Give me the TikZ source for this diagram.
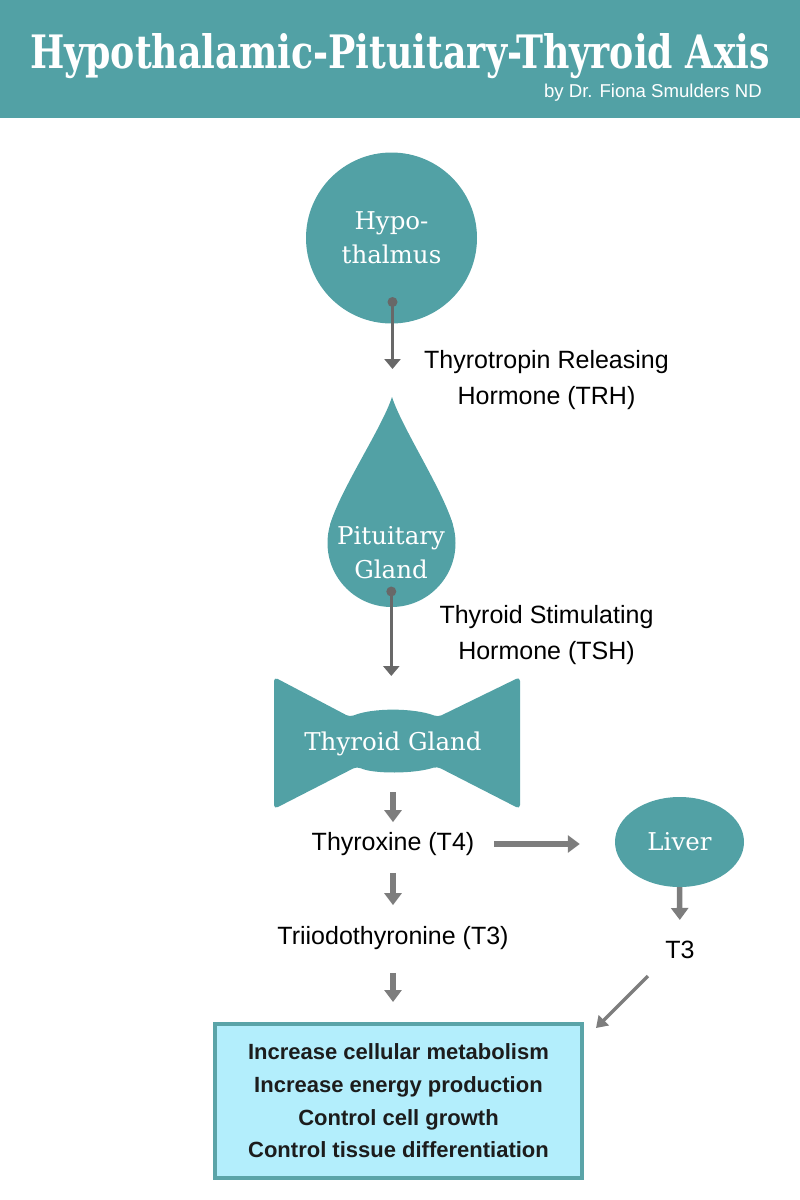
\documentclass[tikz,border=0pt]{standalone}
\usepackage{graphicx}
\usepackage{fontspec}
\newfontfamily\labelfont{Liberation Sans}
\newfontfamily\glandfont{DejaVu Serif}
\usepackage{tikz}
\usetikzlibrary{shapes.geometric, arrows.meta, positioning}

\definecolor{glandteal}{RGB}{82,161,165}
\definecolor{boxfill}{RGB}{179,238,252}
\definecolor{boxline}{RGB}{90,164,168}
\definecolor{linkgray}{RGB}{104,104,104}
\definecolor{stubgray}{RGB}{125,125,125}
\definecolor{inktext}{RGB}{28,28,28}

\begin{document}
\begin{tikzpicture}[x=1pt, y=-1pt, >=Triangle]
\tikzstyle{gland} = [fill=glandteal, text=white, font=\glandfont\fontsize{24.5}{34}\selectfont, align=center, inner sep=0pt]
\tikzstyle{hormone} = [text=black, font=\labelfont\fontsize{25}{36}\selectfont, align=center, inner sep=0pt]
\tikzstyle{effects} = [draw=boxline, line width=4pt, fill=boxfill, text=inktext, minimum width=367pt, minimum height=154pt, align=center, font=\labelfont\bfseries\fontsize{22}{32.7}\selectfont]
\tikzstyle{link} = [draw=linkgray, line width=3pt, -{Triangle[width=16pt, length=10pt]}]
\tikzstyle{stub} = [draw=stubgray, line width=5.5pt, -{Triangle[width=17pt, length=12pt]}]
\tikzstyle{slant} = [draw=stubgray, line width=3.5pt, -{Triangle[width=14pt, length=11pt]}]

\useasboundingbox (0,0) rectangle (800,1200);

% header band with the title
\fill[glandteal] (0,0) rectangle (800,118);
\node[anchor=base, text=white, inner sep=0pt] (title) at (400,68) {\resizebox{740pt}{35pt}{\glandfont\bfseries Hypothalamic-Pituitary-Thyroid Axis}};
\node[anchor=base east, text=white, inner sep=0pt, font=\labelfont\fontsize{18.6}{20}\selectfont] (byline) at (762,97) {by Dr. Fiona Smulders ND};

% the glands
\node[gland, circle, minimum size=171pt] (hypo) at (391.5,238) {Hypo-\\thalmus};

\fill[glandteal] (391.5,543) circle[radius=64];
\fill[glandteal] (392,397) .. controls (402,428) and (443,490) .. (453,525) -- (330,525) .. controls (340,490) and (382,428) .. (392,397) -- cycle;
\node[gland, fill=none] (pit) at (391,553) {Pituitary\\Gland};

\fill[glandteal, rounded corners=4pt] (274,677) -- (350,717) .. controls (372,707.7) and (414,707.7) .. (438,717) -- (520,677) -- (520,809) -- (437,766.5) .. controls (414,774) and (373,774) .. (357,766.5) -- (274,809) -- cycle;
\node[gland, fill=none] (thy) at (393,744) {Thyroid Gland};

\node[gland, ellipse, minimum width=129pt, minimum height=90pt] (liver) at (679.5,842) {Liver};

% hormones
\node[hormone] (trh) at (546.5,380) {Thyrotropin Releasing\\Hormone (TRH)};
\node[hormone] (tsh) at (546.5,635) {Thyroid Stimulating\\Hormone (TSH)};
\node[hormone] (t4) at (393,844) {Thyroxine (T4)};
\node[hormone] (t3) at (393,938) {Triiodothyronine (T3)};
\node[hormone] (t3liver) at (680,950) {T3};

% what the hormones do
\node[effects] (effects) at (398.5,1101) {Increase cellular metabolism\\Increase energy production\\Control cell growth\\Control tissue differentiation};

% connectors
\coordinate (hypodot) at (392.5,302);
\coordinate (pittop) at (392.5,369);
\coordinate (pitdot) at (391.3,591.5);
\coordinate (thytop) at (391.3,676);
\coordinate (slantfrom) at (648,976);
\coordinate (slantto) at (596,1028);

\fill[linkgray] (hypodot) circle[radius=5];
\fill[linkgray] (pitdot) circle[radius=5];
\draw[link] (hypodot) -- (pittop);
\draw[link] (pitdot) -- (thytop);

\draw[stub, shorten <=36pt, shorten >=10pt] (thy.south) -- (t4.north);
\draw[stub, shorten <=17pt, shorten >=21pt] (t4.south) -- (t3.north);
\draw[stub, shorten <=23pt, shorten >=20pt] (t3.south) -- (t3.south |- effects.north);
\draw[stub, shorten <=20pt, shorten >=35pt] (t4.east) -- (t4.east -| liver.west);
\draw[stub, shorten >=21pt] (liver.south) -- (t3liver.north);
\draw[slant] (slantfrom) -- (slantto);

\end{tikzpicture}
\end{document}
